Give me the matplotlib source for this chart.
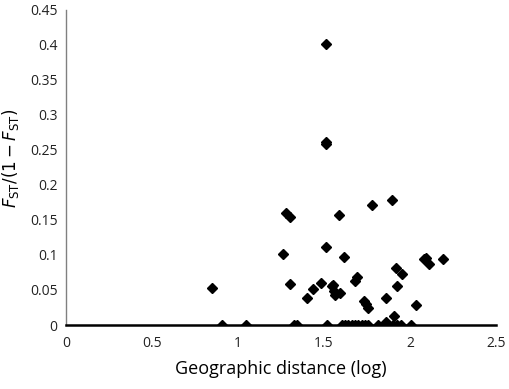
import numpy as np
import matplotlib
matplotlib.use("Agg")
from matplotlib import pyplot as plt

# points above zero
x_pts = [0.849, 1.260, 1.279, 1.302, 1.302, 1.399, 1.434, 1.481, 1.510, 1.510, 1.510,
         1.510, 1.547, 1.550, 1.560, 1.566, 1.593, 1.587, 1.616, 1.678, 1.694, 1.733,
         1.745, 1.755, 1.781, 1.860, 1.860, 1.893, 1.907, 1.919, 1.922, 1.951, 2.035,
         2.078, 2.093, 2.107, 2.188]
y_pts = [0.053, 0.101, 0.160, 0.154, 0.058, 0.038, 0.052, 0.060, 0.112, 0.401, 0.262,
         0.258, 0.056, 0.057, 0.049, 0.043, 0.046, 0.157, 0.097, 0.063, 0.068, 0.035,
         0.030, 0.025, 0.172, 0.038, 0.005, 0.179, 0.013, 0.081, 0.056, 0.073, 0.029,
         0.094, 0.096, 0.087, 0.094]

# points at zero
x_zero = [0.907, 1.045, 1.327, 1.345, 1.519, 1.603, 1.622, 1.641, 1.661, 1.680, 1.700,
          1.719, 1.738, 1.758, 1.816, 1.855, 1.874, 1.903, 1.926, 1.946, 2.004]
y_zero = [0.0] * len(x_zero)

xs = x_pts + x_zero
ys = y_pts + y_zero

plt.rcParams['font.family'] = ['Open Sans', 'DejaVu Sans']
plt.rcParams['mathtext.fontset'] = 'dejavusans'

fig = plt.figure(figsize=(5.1, 3.89), dpi=100)
ax = fig.add_axes([0.129, 0.1645, 0.844, 0.81])

ax.plot(xs, ys, linestyle='none', marker='D', markersize=5, color='black', zorder=3)

ax.set_xlim(0, 2.5)
ax.set_ylim(0, 0.45)
ax.set_xticks([0, 0.5, 1, 1.5, 2, 2.5])
ax.set_xticklabels(['0', '0.5', '1', '1.5', '2', '2.5'])
ax.set_yticks(np.arange(0, 0.46, 0.05))
ax.set_yticklabels(['0', '0.05', '0.1', '0.15', '0.2', '0.25', '0.3', '0.35', '0.4', '0.45'])
ax.tick_params(length=0, labelsize=10, colors='#222222')
ax.tick_params(axis='x', pad=8)
ax.tick_params(axis='y', pad=6)

ax.spines['top'].set_visible(False)
ax.spines['right'].set_visible(False)
ax.spines['left'].set_color('#808080')
ax.spines['left'].set_linewidth(1.0)
ax.spines['bottom'].set_color('black')
ax.spines['bottom'].set_linewidth(1.8)
ax.spines['bottom'].set_zorder(4)

ax.set_xlabel('Geographic distance (log)', fontsize=13)
ax.xaxis.set_label_coords(0.5, -0.11)
ax.set_ylabel(r'$F_{\mathrm{ST}}/(1 - F_{\mathrm{ST}})$', fontsize=12)
ax.yaxis.set_label_coords(-0.105, 0.53)

fig.savefig('out.png', dpi=100)
